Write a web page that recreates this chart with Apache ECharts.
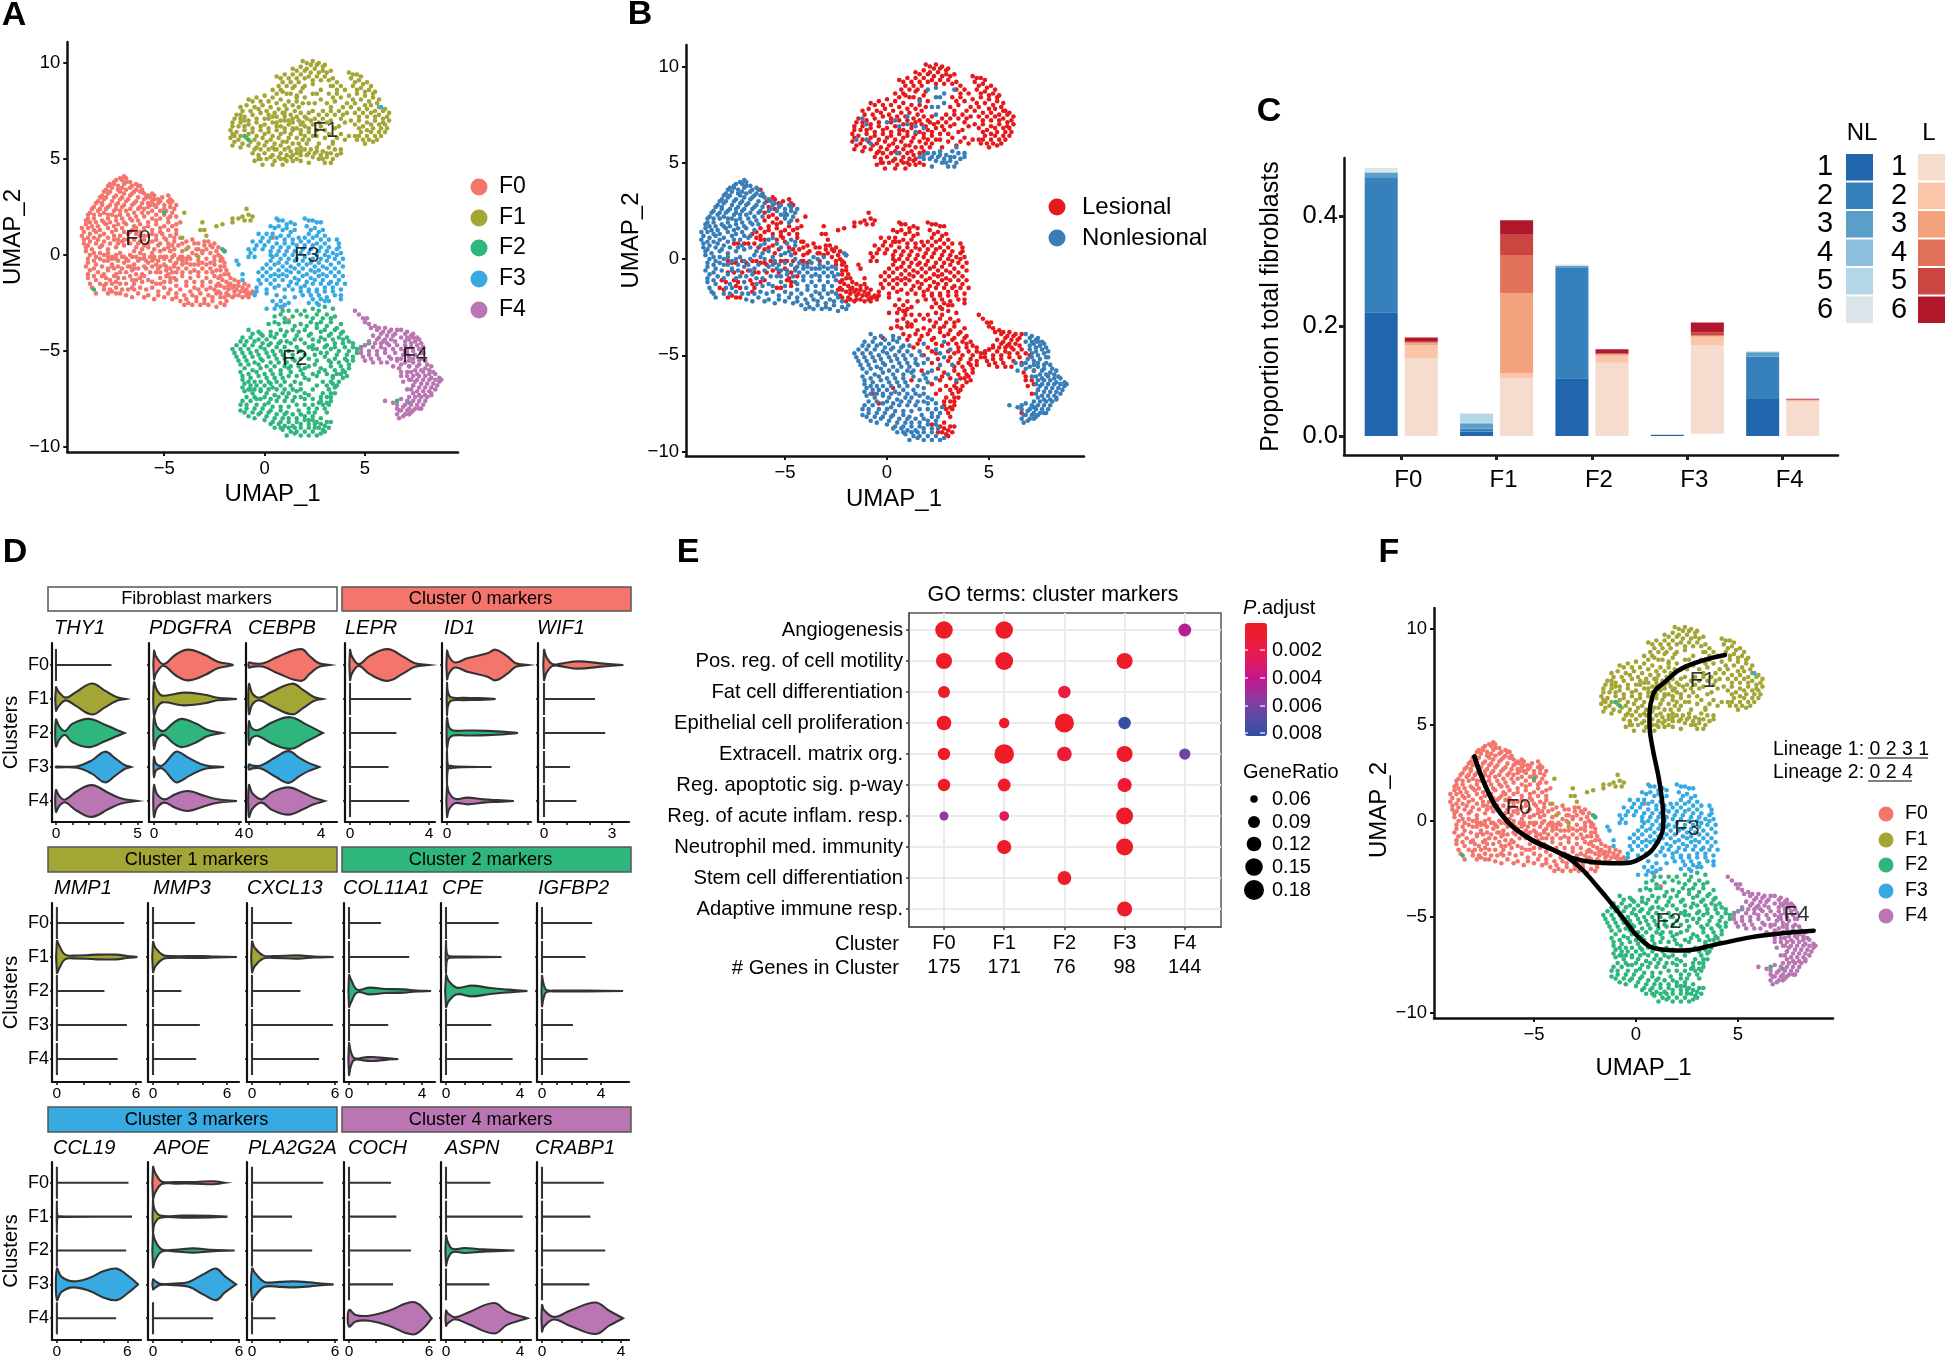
<!DOCTYPE html>
<html><head><meta charset="utf-8">
<script src="https://cdn.jsdelivr.net/npm/echarts@6/dist/echarts.min.js"></script>
<style>html,body{margin:0;background:#fff}#c{width:1945px;height:1360px}</style></head>
<body><div id="c"></div><script>
const CLUSTERS=['F0','F1','F2','F3','F4'];
const COLORS=['#f3756c','#a3a535','#2eb67d','#38aae2','#b976b2'];
// UMAP cell coordinates in tenths of a unit, x,y pairs, split by tissue condition
const f0N=[-70,41,-74,39,-71,39,-67,38,-77,37,-73,36,-70,37,-66,36,-63,36,-79,34,-76,35,-72,33,-69,34,-65,33,-62,33,-81,31,-78,32,-74,31,-71,30,-67,31,-63,30,-58,31,-55,29,-83,28,-80,29,-76,28,-73,27,-69,28,-65,27,-61,27,-57,26,-53,27,-50,26,-47,27,-45,24,-85,25,-81,26,-78,25,-74,24,-71,25,-67,24,-63,24,-52,23,-49,23,-46,22,-87,22,-83,23,-80,22,-76,21,-72,21,-68,21,-64,20,-48,19,-88,19,-85,19,-81,18,-78,19,-74,18,-70,17,-66,18,-89,16,-86,15,-83,15,-79,16,-75,15,-71,14,-90,12,-87,11,-84,12,-80,11,-76,12,-72,10,-68,11,-56,11,-47,10,-90,8,-87,7,-83,8,-80,7,-60,8,-52,6,-45,7,-89,4,-86,3,-82,4,-78,3,-74,4,-70,5,-64,4,-58,4,-50,3,-87,0,-84,-1,-80,0,-76,-1,-72,1,-67,0,-62,1,-55,-1,-45,0,-36,1,-88,-4,-84,-5,-80,-3,-76,-5,-70,-4,-65,-5,-58,-4,-52,-6,-47,-3,-41,-3,-37,-2,-33,-3,-29,-2,-87,-8,-83,-9,-78,-8,-72,-9,-66,-8,-61,-10,-54,-9,-49,-8,-43,-7,-39,-7,-35,-8,-31,-7,-27,-7,-24,-8,-88,-12,-84,-13,-77,-13,-70,-12,-64,-13,-58,-13,-52,-12,-45,-12,-41,-11,-37,-12,-33,-11,-29,-12,-25,-11,-86,-17,-80,-18,-74,-17,-68,-18,-62,-17,-56,-17,-50,-17,-44,-16,-39,-16,-35,-17,-31,-16,-27,-17,-69,-21,-63,-20,-58,-21,-53,-21,-48,-20,-44,-20,-40,-21,-36,-21,-32,-20,-28,-21,-24,-20,-46,-23,-42,-24,-38,-25,-34,-24,-30,-25,-26,-24,-22,-25,-19,-24,
-72,40,-69,40,-75,38,-69,38,-64,37,-78,36,-75,37,-71,35,-67,35,-64,34,-61,34,-80,33,-77,33,-73,34,-70,32,-66,32,-60,32,-57,30,-82,30,-79,30,-75,30,-72,29,-68,29,-64,28,-60,29,-56,28,-52,28,-48,28,-44,26,-84,27,-81,27,-77,26,-74,26,-70,26,-66,26,-62,25,-58,25,-54,25,-50,24,-47,25,-86,24,-82,24,-79,24,-75,23,-72,23,-69,23,-65,22,-61,22,-50,21,-47,20,-88,21,-85,21,-82,21,-78,21,-74,20,-71,19,-67,19,-63,18,-89,18,-87,17,-84,17,-80,17,-77,17,-73,16,-69,16,-65,15,-91,14,-88,14,-85,13,-82,13,-78,14,-74,13,-70,12,-67,12,-58,10,-49,8,-45,9,-91,10,-88,9,-85,9,-82,10,-78,9,-75,10,-71,7,-62,7,-54,8,-48,4,-90,6,-88,5,-84,6,-81,5,-77,6,-73,6,-67,6,-61,3,-56,1,-52,2,-47,2,-89,2,-85,1,-82,1,-78,1,-74,0,-70,-1,-65,2,-60,0,-53,-3,-43,-2,-38,-1,-34,0,-31,1,-88,-2,-85,-3,-82,-2,-78,-3,-73,-3,-68,-3,-63,-3,-56,-3,-50,-2,-44,-4,-39,-4,-35,-5,-31,-4,-27,-4,-89,-6,-85,-7,-81,-6,-76,-6,-73,-6,-67,-6,-60,-6,-54,-5,-49,-6,-45,-6,-41,-5,-37,-5,-33,-5,-29,-5,-25,-5,-88,-10,-85,-11,-80,-10,-74,-10,-69,-9,-64,-10,-57,-9,-52,-9,-46,-9,-41,-9,-37,-9,-33,-9,-29,-9,-26,-9,-87,-15,-79,-15,-76,-15,-69,-15,-61,-14,-56,-14,-50,-14,-44,-13,-39,-14,-35,-14,-31,-14,-27,-14,-84,-20,-77,-18,-71,-18,-65,-18,-59,-18,-53,-19,-47,-18,-42,-18,-37,-19,-33,-18,-29,-18,-25,-18,-66,-22,-60,-22,-55,-23,-50,-22,-44,-22,-39,-23,-34,-22,-30,-23,-26,-22,-22,-22,-40,-26,-36,-26,-32,-26,-28,-26,-24,-27,-20,-26];
const f0L=[-62,36,-59,30,-56,32,-53,29,-48,31,-46,28,-60,24,-56,23,-44,20,-42,17,-60,20,-56,19,-52,19,-62,16,-58,15,-54,16,-50,15,-46,15,-44,13,-66,13,-62,12,-52,12,-50,9,-65,8,-70,8,-75,8,-56,7,-48,6,-43,5,-60,5,-55,3,-45,3,-41,2,-38,4,-35,6,-33,3,-30,5,-28,7,-26,4,-27,1,-24,2,-22,-1,-20,2,-78,-1,-74,-2,-69,-2,-64,-1,-60,-2,-57,-1,-52,-1,-49,-1,-42,-1,-39,-2,-25,-1,-20,-4,-75,-7,-68,-6,-63,-7,-56,-6,-50,-5,-45,-5,-22,-6,-19,-8,-17,-12,-81,-11,-75,-11,-67,-11,-60,-11,-48,-10,-44,-9,-22,-11,-19,-14,-15,-13,-82,-15,-72,-15,-65,-15,-54,-15,-47,-14,-23,-15,-20,-17,-16,-17,-13,-16,-10,-15,-78,-20,-72,-20,-23,-19,-19,-20,-15,-19,-12,-19,-9,-18,-6,-19,-20,-22,-16,-22,-13,-21,-9,-21,-7,-20,4,9,12,-34,9,-27,
-61,33,-55,31,-51,30,-47,29,-58,27,-55,26,-58,22,-54,21,-58,17,-54,18,-48,17,-44,16,-64,14,-60,14,-56,13,-52,14,-48,13,-62,10,-64,11,-60,10,-54,10,-51,11,-44,11,-42,9,-73,8,-68,8,-63,6,-58,6,-53,5,-46,5,-41,6,-39,7,-36,8,-33,6,-30,7,-27,5,-25,6,-23,4,-34,3,-31,2,-29,3,-23,0,-21,-2,-76,-2,-71,-1,-66,-1,-62,-2,-59,-3,-55,-2,-50,-1,-46,-1,-41,-1,-25,-3,-22,-3,-20,-6,-78,-7,-71,-7,-65,-7,-59,-7,-53,-7,-47,-7,-22,-8,-20,-10,-18,-10,-79,-12,-73,-12,-66,-13,-62,-12,-49,-11,-47,-12,-23,-12,-21,-13,-17,-15,-80,-16,-74,-14,-66,-17,-52,-15,-24,-16,-22,-16,-18,-16,-15,-16,-13,-14,-11,-17,-8,-16,-76,-19,-74,-20,-22,-20,-18,-18,-14,-18,-10,-19,-8,-20,-5,-20,-18,-21,-15,-21,-11,-22,-8,-22];
const f1L=[21,100,24,101,27,100,30,99,14,97,18,98,21,97,25,97,29,96,33,96,42,95,46,94,6,93,10,94,14,94,18,94,22,93,26,93,30,93,34,92,43,92,47,91,51,90,9,90,13,90,17,90,34,88,38,88,44,88,48,87,52,86,55,85,4,86,8,86,11,84,14,87,18,85,20,82,32,84,36,84,42,83,46,84,50,83,54,82,57,81,-8,81,-4,82,0,83,4,82,8,81,12,80,16,80,19,79,31,79,35,80,41,79,45,79,50,78,53,78,57,77,60,76,-12,77,-9,78,-5,77,-1,78,3,77,7,76,11,76,15,75,18,74,22,74,29,75,33,75,37,75,41,74,45,74,49,74,53,74,57,73,61,72,-14,73,-10,72,-6,73,-2,74,2,73,6,72,10,72,14,71,17,70,21,71,25,71,29,71,33,70,38,71,43,70,47,70,51,69,55,70,59,69,62,70,-16,69,-12,69,-8,68,-4,69,0,68,4,69,8,67,12,68,16,66,20,67,24,68,28,67,37,67,47,66,51,65,54,66,58,66,61,66,-17,65,-14,64,-10,65,-6,64,-2,65,2,64,6,65,10,64,13,63,18,63,22,64,26,62,32,63,38,63,47,62,51,62,55,62,58,62,-17,61,-13,60,-9,61,-5,60,-1,61,3,60,7,61,11,59,19,60,22,60,27,58,34,59,40,60,46,60,50,58,54,59,-16,57,-12,56,-8,57,-4,56,0,57,4,56,8,57,12,56,18,56,-6,53,-3,52,0,53,4,52,8,53,11,52,14,52,-5,49,-2,50,1,50,5,49,8,50,11,49,14,49,18,49,-9,24,-8,21,-11,20,-6,20,-13,19,-10,18,-7,18,-16,19,-16,17,-32,13,-30,13,-24,15,-21,16,-40,22,-31,17,-41,9,-29,10,-39,3,-33,-1,
19,101,23,99,26,99,29,98,16,96,20,96,23,95,27,95,31,95,44,94,48,93,8,92,12,92,16,92,20,92,24,91,28,91,32,91,36,90,45,90,49,89,53,88,7,88,11,88,15,88,19,87,36,86,40,86,46,86,50,85,54,84,6,84,9,85,13,84,16,83,34,82,38,82,44,81,48,81,52,80,56,79,-6,80,-2,80,2,80,6,79,10,78,14,78,17,77,33,77,39,77,43,77,47,76,51,76,55,75,59,75,62,74,-11,75,-7,75,-3,76,1,75,5,74,9,74,13,73,16,72,20,72,27,73,31,73,35,73,39,73,47,72,51,72,55,72,59,71,-15,71,-12,71,-8,70,-4,71,2,71,8,70,12,70,19,69,23,70,27,69,31,69,40,69,45,68,49,67,53,68,57,68,60,68,-16,67,-13,67,-10,67,-6,66,-2,67,2,66,6,67,10,66,14,65,18,65,22,66,26,65,30,65,35,66,48,64,53,64,57,64,60,64,-16,63,-12,62,-8,63,-4,62,0,63,4,62,8,63,12,61,16,61,20,62,24,62,30,61,36,61,42,62,45,62,49,60,52,60,56,60,-15,59,-11,58,-7,59,-3,58,1,59,5,58,9,59,14,58,17,58,21,58,-5,55,-2,55,2,55,6,55,10,55,13,54,16,55,-3,50,3,51,7,51,10,50,13,51,16,50,-1,47,4,47,9,47];
const f1N=[20,55,23,55,26,54,29,54,32,56,35,55,38,55,36,52,34,50,31,51,29,50,24,51,21,52,18,52,16,53,22,48,24,89,20,88,28,86,33,88,6,69,10,70,14,66,18,68,0,71,-12,73,-15,62,5,55,24,75,25,79,16,82,26,84,22,53,25,53,28,52,31,53,33,53,27,50,33,48,30,48,38,53,34,58,26,56,18,54,22,79,28,81,24,84,10,74,4,72,-10,70,14,69];
const f2L=[9,-29,16,-29,24,-28,30,-27,34,-28,5,-32,10,-33,14,-32,21,-32,26,-31,31,-31,35,-32,2,-36,7,-36,12,-35,18,-36,23,-35,28,-35,33,-35,38,-36,8,-39,14,-39,20,-39,26,-38,30,-39,35,-39,39,-40,-2,-41,10,-42,16,-42,22,-42,32,-42,37,-43,41,-43,13,-46,20,-46,27,-45,35,-46,39,-46,44,-46,18,-50,24,-49,33,-49,37,-50,42,-50,46,-49,50,-47,22,-54,30,-53,35,-54,40,-54,44,-53,17,-58,25,-57,33,-58,38,-58,42,-57,27,-61,31,-62,36,-62,40,-61,12,-63,22,-65,29,-66,33,-66,37,-66,39,-64,-7,-70,3,-67,24,-70,32,-70,35,-69,-4,-75,28,-74,31,-74,33,-74,29,-78,30,-80,32,-78,22,-86,26,-87,28,-85,27,-90,30,-89,32,-90,33,-87,30,-92,
12,-29,20,-29,27,-29,8,-31,18,-31,24,-33,29,-33,33,-33,5,-35,10,-35,15,-37,21,-37,26,-36,31,-37,36,-38,11,-40,17,-40,23,-41,28,-40,33,-41,38,-41,15,-44,24,-44,30,-44,34,-44,39,-44,42,-45,22,-48,30,-48,35,-48,40,-48,44,-48,48,-48,52,-46,25,-52,31,-51,36,-52,41,-52,46,-51,33,-56,37,-56,41,-55,44,-55,28,-59,35,-60,39,-60,42,-59,26,-63,34,-64,38,-62,41,-63,26,-68,31,-68,34,-67,36,-68,29,-72,33,-72,35,-72,28,-76,31,-77,33,-76,31,-82,28,-88,31,-87,25,-90,29,-91];
const f2N=[-8,-39,-3,-40,3,-40,-11,-43,-7,-43,-3,-44,1,-44,5,-43,8,-45,18,-44,28,-43,-14,-47,-10,-47,-6,-47,-2,-48,2,-47,6,-48,10,-48,16,-48,24,-47,31,-47,-15,-51,-11,-51,-7,-51,-3,-52,1,-51,5,-52,9,-52,14,-52,20,-52,28,-51,-13,-55,-9,-55,-5,-56,-1,-55,3,-56,7,-56,11,-56,15,-55,26,-55,32,-55,-10,-59,-6,-60,-2,-59,3,-60,8,-60,12,-59,20,-59,30,-60,-11,-63,-7,-64,-3,-63,1,-64,5,-64,9,-64,16,-63,19,-62,24,-62,34,-63,-10,-67,-7,-68,-4,-68,0,-68,4,-69,8,-68,13,-68,18,-67,-10,-71,-6,-72,-2,-71,1,-72,5,-73,9,-72,12,-72,16,-71,20,-72,-11,-76,-7,-76,-2,-75,2,-77,6,-76,10,-76,14,-76,20,-75,24,-75,-12,-81,-9,-80,-5,-80,-1,-80,3,-81,8,-81,11,-82,17,-81,22,-80,26,-80,-8,-84,-3,-83,1,-84,5,-85,9,-85,12,-85,16,-85,20,-84,24,-84,3,-88,7,-88,10,-89,14,-89,18,-88,22,-88,25,-88,9,-91,13,-92,16,-92,20,-92,24,-92,28,-93,-50,22,-85,-18,-20,2,-21,3,-10,62,-8,60,66,-76,72,-77,
-6,-41,-1,-42,3,-42,6,-41,-12,-45,-9,-45,-5,-45,-1,-46,3,-46,7,-46,11,-45,-16,-49,-12,-49,-8,-49,-4,-50,0,-49,4,-50,8,-50,12,-50,17,-50,26,-49,-14,-53,-10,-53,-6,-53,-2,-54,2,-53,6,-54,10,-54,14,-54,18,-54,-12,-57,-8,-57,-3,-57,1,-58,5,-58,10,-58,13,-58,22,-58,-12,-61,-8,-62,-4,-61,0,-62,4,-62,8,-62,13,-61,18,-60,-11,-65,-8,-66,-5,-66,-2,-66,2,-66,6,-66,10,-66,15,-66,20,-64,-11,-69,-8,-70,-5,-70,-2,-70,2,-70,6,-70,10,-70,14,-70,18,-70,-9,-74,-5,-74,0,-74,3,-75,7,-74,11,-74,15,-74,18,-74,22,-73,-12,-78,-9,-78,-4,-78,0,-78,4,-79,8,-79,12,-79,16,-78,20,-78,24,-78,27,-77,-10,-82,-6,-82,-2,-82,2,-82,6,-83,10,-83,14,-83,18,-83,22,-82,25,-82,-5,-85,0,-86,4,-87,8,-87,12,-87,16,-87,20,-86,24,-86,5,-90,8,-90,12,-90,15,-90,18,-90,22,-90,11,-94,15,-93,18,-94,22,-94,26,-94];
const f3L=[6,19,9,18,13,17,20,19,24,18,28,17,3,15,7,15,11,14,15,13,21,15,25,14,29,13,-3,11,1,11,4,11,8,10,12,10,17,9,22,11,26,10,30,10,-6,7,-2,7,2,7,6,6,10,6,14,6,18,7,22,7,26,6,30,6,36,8,-8,3,-5,3,-1,3,3,2,7,2,11,2,15,2,19,3,23,3,27,2,31,2,37,4,-8,-1,4,-1,8,-2,12,-2,16,-2,20,-1,24,-2,28,-2,32,-1,36,0,38,1,1,-5,5,-5,9,-6,13,-6,17,-5,21,-5,25,-6,29,-6,33,-5,37,-4,-3,-9,1,-9,5,-10,9,-10,13,-9,17,-9,21,-10,25,-9,29,-10,33,-9,37,-9,-3,-13,1,-13,5,-13,9,-13,13,-14,17,-13,21,-14,25,-13,29,-13,33,-14,37,-13,-4,-17,1,-18,5,-17,10,-18,14,-18,18,-17,22,-18,26,-18,30,-17,34,-17,38,-18,-5,-21,15,-22,19,-21,23,-21,27,-21,31,-22,35,-21,38,-21,4,-24,8,-24,12,-25,22,-25,26,-25,30,-24,1,-28,5,-28,8,-27,58,77,-14,-3,-13,-5,-11,-13,-11,-10,
7,18,11,16,15,16,22,18,26,17,5,14,9,13,13,12,23,13,27,12,-1,9,3,9,6,9,10,8,14,8,20,9,24,9,28,8,32,8,37,6,-4,5,0,5,4,4,8,4,12,4,16,5,20,5,24,5,28,4,32,4,36,3,-7,1,-5,-1,3,0,6,0,10,0,14,0,18,1,22,1,26,0,30,0,34,1,3,-3,7,-4,11,-4,15,-3,19,-3,23,-4,27,-4,31,-3,35,-2,39,-2,-1,-7,3,-7,7,-8,11,-8,15,-7,19,-7,23,-8,27,-8,31,-7,35,-7,39,-6,-1,-11,3,-11,7,-11,11,-11,15,-12,19,-11,23,-12,27,-11,31,-11,35,-11,39,-11,-2,-15,3,-15,7,-16,12,-16,16,-15,20,-16,24,-15,28,-15,32,-15,36,-15,40,-15,18,-19,22,-19,26,-19,30,-19,34,-19,38,-23,-4,-19,1,-20,6,-21,10,-22,24,-23,28,-23,32,-24,6,-26,10,-26,27,-26];
const f4L=[45,-29,47,-31,49,-33,51,-33,52,-36,55,-37,57,-38,60,-38,63,-39,66,-39,58,-41,61,-42,64,-42,56,-44,59,-45,50,-47,54,-48,58,-48,62,-47,66,-47,70,-50,48,-51,52,-52,56,-52,60,-51,65,-51,50,-55,54,-56,58,-56,61,-56,67,-59,72,-58,68,-63,69,-66,72,-65,74,-68,71,-70,66,-80,
50,-35,53,-38,56,-39,59,-40,62,-40,65,-41,54,-42,57,-43,60,-44,63,-44,52,-45,55,-46,58,-46,61,-46,65,-45,48,-49,52,-50,56,-50,60,-49,64,-49,68,-49,49,-53,53,-54,57,-54,62,-53,66,-54,68,-61,71,-63];
const f4N=[68,-39,71,-40,74,-41,76,-43,68,-43,72,-44,75,-45,78,-46,70,-47,73,-48,77,-49,79,-51,69,-52,72,-53,75,-52,78,-54,80,-55,63,-54,66,-55,70,-56,74,-56,77,-57,81,-57,64,-58,75,-60,78,-60,82,-60,84,-61,71,-61,74,-63,77,-63,80,-63,83,-64,87,-64,75,-66,78,-67,81,-67,84,-67,87,-66,73,-70,76,-71,79,-71,82,-71,85,-70,72,-74,75,-74,78,-74,81,-74,83,-73,68,-75,70,-78,73,-78,76,-78,79,-78,66,-78,68,-81,71,-81,74,-81,77,-80,66,-83,69,-84,72,-83,60,-76,64,-77,
70,-41,73,-42,71,-43,74,-43,77,-44,70,-45,73,-46,76,-47,79,-48,71,-49,74,-50,78,-51,71,-51,74,-54,77,-55,68,-54,72,-55,68,-57,72,-58,76,-58,80,-59,83,-58,73,-61,76,-62,79,-61,82,-62,85,-62,73,-65,76,-65,79,-65,82,-65,85,-65,88,-65,74,-68,77,-69,80,-69,83,-69,86,-68,74,-72,77,-73,80,-73,83,-72,71,-76,74,-76,77,-76,80,-76,69,-79,72,-80,75,-80,78,-80,67,-81,70,-83,73,-82,67,-85];
const clusterL=[f0L,f1L,f2L,f3L,f4L], clusterN=[f0N,f1N,f2N,[],f4N];
const labelPosA=[[-6.3,.83],[3.03,6.45],[1.5,-5.4],[2.1,-.05],[7.5,-5.26]];
const labelPosF=[[-5.76,.67],[3.26,7.29],[1.6,-5.24],[2.5,-.42],[7.87,-4.9]];
const lineage1=[[-7.92,3.35],[-7.29,1.61],[-6.57,.31],[-5.49,-.73],[-4.05,-1.51],[-2.25,-2.12],[-.81,-2.2],[.25,-1.94],[1.07,-1.08],[1.34,.05],[1.16,1.96],[.8,3.87],[.66,5.09],[.8,6.47],[1.52,7.34],[2.42,8.04],[4.36,8.65]];
const lineage2=[[-7.92,3.35],[-7.29,1.61],[-6.57,.31],[-5.49,-.73],[-4.05,-1.51],[-2.97,-2.2],[-1.89,-3.42],[-.81,-4.81],[.26,-6.2],[1.16,-6.68],[2.24,-6.75],[4.04,-6.4],[6.01,-5.99],[8.71,-5.71]];
// Panel C: proportions by sample (1-6) for each cluster
const NL=[[.225,.008,.105,.0025,.0673],[.2435,.0055,.2017,0,.077],[.0095,.0085,.002,0,.008],[.001,.002,.0005,0,.0005],[.001,.0165,.0005,0,.0005],[.007,.001,.002,.0008,.0005]];
const LS=[[.141,.105,.133,.1615,.0624],[.0245,.009,.013,.015,.002],[.003,.1455,.0025,.001,.0005],[.002,.0695,.0005,.0015,.001],[.002,.0365,.001,.0055,.0005],[.0065,.0265,.0075,.0175,.0015]];
const L_BASE=[0,0,0,.004,0];
const NL_COL=['#2166ac','#3680bb','#5b9fc9','#8bbfdb','#b6d7e8','#dbe4ea'];
const L_COL=['#f5dccf','#fac5a9','#f3a27e','#e1715a','#ca4741','#b2182b'];
// Panel D: each gene has five violins; a number is a flat spike up to that value, an array is x,halfHeight knots
const THY1=[3.4,[0,.7,.15,.45,.6,.08,1.2,.4,2.2,.93,3,.5,3.7,.12,4.3,0],[0,.8,.2,.4,.55,.12,1,.55,2,.85,3,.5,3.7,.2,4.2,0],[0,.02,1.3,.05,2.2,.4,3,.92,3.6,.55,4.2,.12,4.6,0],[0,.65,.2,.3,.55,.08,1.3,.6,2.2,.95,3.2,.5,4,.15,5,0]];
const PDGFRA=[[0,.85,.1,.5,.45,.05,1,.6,1.6,.92,2.4,.6,3,.2,3.7,.02],[0,1,.15,.5,.4,.2,1.4,.38,2.4,.25,3,.08,3.9,0],[0,.95,.15,.35,.45,.12,.9,.6,1.3,.85,2,.55,2.5,.2,3.2,0],[0,.6,.1,.2,.4,.1,.9,.8,1.1,.93,1.7,.5,2.4,.1,3.3,0],[0,.95,.15,.4,.5,.1,1,.4,1.6,.6,2.4,.3,3,.1,3.9,0]];
const CEBPB=[[0,.15,.2,.1,.8,.1,1.6,.5,2.9,.95,3.4,.5,3.9,.1,4.5,0],[0,.9,.2,.3,.6,.08,1.2,.4,2.4,.92,3,.55,3.6,.12,4.1,0],[0,.7,.15,.3,.5,.18,1.3,.65,2.3,.95,3.2,.5,4.1,0],[0,.15,.2,.08,.7,.1,1.5,.6,2.2,.95,2.8,.55,3.3,.25,3.9,0],[0,.95,.2,.45,.7,.1,1.3,.55,2.2,.82,3,.5,3.6,.2,4.2,0]];
const LEPR=[[0,.9,.1,.5,.45,.05,1,.55,1.9,.95,2.7,.5,3.3,.1,4,0],3.1,2.35,1.95,3];
const ID1=[[0,.85,.1,.5,.4,.15,1,.4,2,.7,2.4,.92,3,.5,3.4,.1,4,0],[0,.95,.05,.4,.2,.1,.8,.07,1.6,.05,2.4,0],[0,.9,.1,.35,.3,.15,1,.15,2,.13,3,.06,3.5,0],[0,1,.05,.1,.2,.07,.5,.02,2.2,0],[0,.95,.1,.5,.4,.13,1,.2,1.8,.1,2.5,.05,3.3,0]];
const WIF1=[[0,.9,.1,.5,.35,.07,.7,.07,1.5,.22,2.5,.1,3.5,0],2.25,2.7,1.15,1.43];
const MMP1=[5.1,[0,.95,.2,.65,.6,.15,1.2,.08,3,.14,4.5,.14,5.3,.06,6.1,0],3.6,5.3,4.6];
const MMP3=[3.4,[0,.9,.2,.55,.8,.12,1.5,.05,4,.06,5,.03,6.8,0],2.3,3.8,3.5];
const CXCL13=[2.9,[0,.92,.2,.55,.8,.1,1.5,.05,3.3,.1,4.5,.03,5.9,0],3.5,5.85,4.85];
const COL11A1=[1.75,3.3,[0,.95,.1,.7,.45,.08,1.1,.2,2,.12,3,.1,3.7,.03,4.5,0],2.15,[0,.95,.1,.45,.3,.05,.9,.1,1.3,.12,2,.05,2.7,0]];
const CPE=[2.85,[0,.95,.05,.2,.2,.05,1,.03,3,0],[0,.95,.15,.6,.6,.2,1.4,.32,2.4,.18,3.4,.08,4.4,0],2.45,3.6];
const IGFBP2=[3.4,2.95,[0,.9,.1,.45,.3,.07,1,.03,3,.02,5.5,0],2.1,3.1];
const CCL19=[6.1,[0,.9,.03,.1,.15,.02,6.4,0],5.9,[0,.95,.4,.45,1.4,.18,2.8,.4,4,.8,5.1,.95,6,.55,6.9,.02],5.05];
const APOE=[[0,.95,.15,.6,.6,.08,1.5,.05,3,.05,4.2,.09,5,0],[0,1,.1,.45,.5,.07,2,.06,4,.05,5.2,0],[0,1,.15,.6,.6,.07,1.5,.05,2.8,.13,4,.05,5.7,0],[0,.3,.15,.2,.5,.03,1.5,.05,2.5,.15,3.6,.65,4.4,.95,5,.5,5.8,0],4.2];
const PLA2G2A=[5.15,2.9,4.35,[0,.95,.25,.65,.9,.15,2,.15,3,.18,4.2,.12,5,.05,5.9,0],1.7];
const COCH=[3.15,3.55,4.65,3.3,[0,.5,.5,.2,1.5,.15,3,.45,4.3,.9,5,.95,5.7,.5,6.2,0]];
const ASPN=[2.4,4.15,[0,.9,.1,.5,.35,.1,1,.15,2,.07,3,.03,3.7,0],2.35,[0,.45,.1,.3,.5,.06,1.2,.35,2.6,.92,3.3,.4,4.4,0]];
const CRABP1=[3.13,2.45,3.2,2.4,[0,.8,.1,.5,.6,.08,1.4,.45,2.7,.95,3.4,.45,4.1,0]];
// Panel E
const GO_TERMS=['Angiogenesis','Pos. reg. of cell motility','Fat cell differentiation','Epithelial cell proliferation','Extracell. matrix org.','Reg. apoptotic sig. p-way','Reg. of acute inflam. resp.','Neutrophil med. immunity','Stem cell differentiation','Adaptive immune resp.'];
const GENE_COUNTS=[175,171,76,98,144];
const GO_DOTS=[[0,0,.15,.0003],[1,0,.15,.0003],[4,0,.10,.0045],[0,1,.135,.0003],[1,1,.155,.0003],[3,1,.135,.0004],[0,2,.09,.0004],[2,2,.095,.0015],[0,3,.12,.0003],[1,3,.08,.0006],[2,3,.17,.0003],[3,3,.095,.0082],[0,4,.095,.0004],[1,4,.175,.0003],[2,4,.12,.0012],[3,4,.135,.0005],[4,4,.085,.0065],[0,5,.095,.0005],[1,5,.10,.0005],[3,5,.115,.001],[0,6,.07,.0055],[1,6,.075,.0025],[3,6,.145,.0003],[1,7,.115,.0004],[3,7,.145,.0003],[2,8,.11,.0004],[3,9,.125,.0004]];
const RATIO_LEGEND=[.06,.09,.12,.15,.18];
const PADJ_LEGEND=[.002,.004,.006,.008];

const FONT='"Liberation Sans",Arial,sans-serif';
const pairs=a=>{const o=[];for(let i=0;i<a.length;i+=2)o.push([a[i]/10,a[i+1]/10]);return o;};
const minusFmt=v=>String(v).replace('-','\u2212');
const BLK='#111';
const grids=[],xAxes=[],yAxes=[],series=[],graphic=[];
const txt=(text,x,y,size,o={})=>graphic.push({type:'text',z:50,style:Object.assign({text,x,y,fill:'#000',fontFamily:FONT,fontSize:size,align:'left',verticalAlign:'middle',textAlign:'left',textVerticalAlign:'middle'},o)});
const dot=(x,y,r,fill)=>graphic.push({type:'circle',z:50,shape:{cx:x,cy:y,r},style:{fill}});
const rect=(x,y,w,h,fill,stroke)=>graphic.push({type:'rect',z:50,shape:{x,y,width:w,height:h},style:{fill,stroke:stroke||null,lineWidth:stroke?1.5:0}});
const seg=(x1,y1,x2,y2,stroke,w)=>graphic.push({type:'line',z:60,shape:{x1,y1,x2,y2},style:{stroke,lineWidth:w}});
function addGrid(l,t,r,b){grids.push({left:l,top:t,width:r-l,height:b-t,containLabel:false});return grids.length-1;}
const axLine=w=>({show:true,onZero:false,lineStyle:{color:BLK,width:w}});
const DOT=4.6;
function umap(box,xz,yz,ppx,ppy,gapX,gapY,shiftX,shiftY){
  const g=addGrid(box[0],box[1],box[2],box[3]);
  xAxes.push({gridIndex:g,type:'value',min:(box[0]-xz)/ppx,max:(box[2]-xz)/ppx,name:'UMAP_1',nameLocation:'middle',nameGap:gapX,
    nameTextStyle:{fontFamily:FONT,fontSize:24,color:'#000',padding:[0,0,0,shiftX]},axisLine:axLine(2.5),splitLine:{show:false},
    axisTick:{show:true,length:4,lineStyle:{width:2,color:BLK},customValues:[-5,0,5]},
    axisLabel:{customValues:[-5,0,5],formatter:minusFmt,fontFamily:FONT,fontSize:18.5,color:'#000',margin:7}});
  yAxes.push({gridIndex:g,type:'value',min:(yz-box[3])/ppy,max:(yz-box[1])/ppy,name:'UMAP_2',nameLocation:'middle',nameGap:gapY,
    nameTextStyle:{fontFamily:FONT,fontSize:24,color:'#000',padding:[0,0,0,shiftY]},axisLine:axLine(2.5),splitLine:{show:false},
    axisTick:{show:true,length:4,lineStyle:{width:2,color:BLK},customValues:[-10,-5,0,5,10]},
    axisLabel:{customValues:[-10,-5,0,5,10],formatter:minusFmt,fontFamily:FONT,fontSize:18.5,color:'#000',margin:7}});
  return g;
}
const scatter=(g,name,pts,color)=>series.push({type:'scatter',name,xAxisIndex:g,yAxisIndex:g,data:pts,symbolSize:DOT,itemStyle:{color,opacity:1},silent:true,large:false});
const clusterSeries=g=>CLUSTERS.forEach((c,i)=>scatter(g,c,pairs(clusterL[i].concat(clusterN[i])),COLORS[i]));
const labelSeries=(g,pos,size)=>series.push({type:'scatter',xAxisIndex:g,yAxisIndex:g,z:20,silent:true,symbolSize:0,
  data:pos.map((p,i)=>({value:p,name:CLUSTERS[i]})),label:{show:true,position:'inside',formatter:'{b}',fontFamily:FONT,fontSize:size,color:'#000'}});

// A
const gA=umap([60,42,458,452],261,255,20.45,19.2,30,38,20,20);
clusterSeries(gA);labelSeries(gA,labelPosA,22);
// B
const gB=umap([686,45,1084,456],887,259,20.4,19.25,31,41,18,20);
scatter(gB,'Lesional',clusterL.flatMap(pairs),'#e41a1c');
scatter(gB,'Nonlesional',clusterN.flatMap(pairs),'#377eb8');
// F
const gF=umap([1434,608,1833,1018],1636,821,20.4,19.2,38,38,20,6);
clusterSeries(gF);
[lineage1,lineage2].forEach(d=>series.push({type:'line',xAxisIndex:gF,yAxisIndex:gF,data:d,smooth:.45,showSymbol:false,symbol:'none',silent:true,z:10,lineStyle:{color:'#000',width:4.5,cap:'round'}}));
labelSeries(gF,labelPosF,22);

// legends of A, B, F
CLUSTERS.forEach((c,i)=>{const y=[187,218,248,279,310][i];dot(479,y,8.5,COLORS[i]);txt(c,499,y,23);});
[['Lesional','#e41a1c',207],['Nonlesional','#377eb8',238]].forEach(a=>{dot(1057,a[2],8.5,a[1]);txt(a[0],1082,a[2],24);});
CLUSTERS.forEach((c,i)=>{const y=[814,840,865,891,916][i];dot(1886,y,7.5,COLORS[i]);txt(c,1905,y,19.5);});
txt('Lineage 1: 0 2 3 1',1773,750,19.5);txt('Lineage 2: 0 2 4',1773,773,19.5);
seg(1868,758,1928,758,'#000',1.2);seg(1868,781,1912,781,'#000',1.2);

// C
const gC=addGrid(1344,158,1838,455);
xAxes.push({gridIndex:gC,type:'value',min:-.6,max:4.58,axisLine:axLine(2.5),splitLine:{show:false},
  axisTick:{show:true,length:5,lineStyle:{width:3,color:'#222'},customValues:[0,1,2,3,4]},
  axisLabel:{customValues:[0,1,2,3,4],formatter:v=>CLUSTERS[v],fontFamily:FONT,fontSize:24,color:'#000',margin:13,padding:[0,0,0,14]}});
yAxes.push({gridIndex:gC,type:'value',min:-.0345,max:.505,name:'Proportion total fibroblasts',nameLocation:'middle',nameGap:60,
  nameTextStyle:{fontFamily:FONT,fontSize:25,color:'#000'},axisLine:axLine(2.5),splitLine:{show:false},
  axisTick:{show:true,length:5,lineStyle:{width:3,color:'#222'},customValues:[0,.2,.4]},
  axisLabel:{customValues:[0,.2,.4],formatter:v=>v.toFixed(1),fontFamily:FONT,fontSize:25.5,color:'#000',margin:6}});
const BAR_W=33;
function stackSeries(levels,colors,off,base){
  const cum=[0,1,2,3,4].map(i=>base?base[i]:0);
  levels.forEach((vals,li)=>{
    const data=vals.map((v,i)=>{const d=[i+off,cum[i],cum[i]+v];cum[i]+=v;return d;});
    series.push({type:'custom',name:'Sample '+(li+1),xAxisIndex:gC,yAxisIndex:gC,silent:true,data,encode:{x:0,y:[1,2]},
      renderItem:(p,api)=>{const a=api.coord([api.value(0),api.value(2)]),b=api.coord([api.value(0),api.value(1)]);
        return {type:'rect',shape:{x:a[0]-BAR_W/2,y:a[1],width:BAR_W,height:b[1]-a[1]},style:{fill:colors[li]}};}});
  });
}
stackSeries(NL,NL_COL,-.21);
stackSeries(LS,L_COL,.21,L_BASE);
txt('NL',1862,133,24,{align:'center',textAlign:'center'});txt('L',1929,133,24,{align:'center',textAlign:'center'});
for(let i=0;i<6;i++){const t=154+28.5*i;
  rect(1846,t,27,26.5,NL_COL[i]);rect(1918,t,27,26.5,L_COL[i]);
  txt(String(i+1),1825,t+13,29,{align:'center',textAlign:'center'});txt(String(i+1),1899,t+13,29,{align:'center',textAlign:'center'});}

// D
const ROWS=[
 {top:643,bot:822,y0:665,dy:34,hT:587,hB:611,gY:628,headers:[['Fibroblast markers','#ffffff'],['Cluster 0 markers',COLORS[0]]],panels:[
  ['THY1',THY1,51,142,55,137.5,5,54],['PDGFRA',PDGFRA,149,241,154,239,4,149],['CEBPB',CEBPB,246,337,249,321,4,248],['LEPR',LEPR,345,435,350,429,4,345],['ID1',ID1,442,531,447,528,4,444,true],['WIF1',WIF1,538,629,544,612,3,537]]},
 {top:903,bot:1082,y0:923,dy:34,hT:847,hB:872,gY:888,headers:[['Cluster 1 markers',COLORS[1]],['Cluster 2 markers',COLORS[2]]],panels:[
  ['MMP1',MMP1,50,141,55,136,6,54],['MMP3',MMP3,148,239,153,227,6,153],['CXCL13',CXCL13,247,337,252,335,6,247],['COL11A1',COL11A1,344,435,349,422,4,343],['CPE',CPE,441,531,446,520,4,442],['IGFBP2',IGFBP2,537,629,542,601,4,538]]},
 {top:1162,bot:1342,y0:1183,dy:34.25,hT:1107,hB:1132,gY:1148,headers:[['Cluster 3 markers',COLORS[3]],['Cluster 4 markers',COLORS[4]]],panels:[
  ['CCL19',CCL19,50,141,55,127,6,53],['APOE',APOE,148,239,153,239,6,154],['PLA2G2A',PLA2G2A,247,337,252,335,6,248],['COCH',COCH,344,435,349,429,6,348],['ASPN',ASPN,441,531,446,520,4,445],['CRABP1',CRABP1,537,629,542,621,4,535]]}];
ROWS.forEach(R=>{
  R.headers.forEach((h,i)=>{const l=i?342:48,w=289;rect(l,R.hT,w,R.hB-R.hT,h[1],'#555');
    txt(h[0],l+w/2+(i?-6:4),(R.hT+R.hB)/2,18.2,{align:'center',textAlign:'center'});});
  R.panels.forEach((P,pi)=>{
    const [gene,vals,L,Rt,zero,tickPx,tickVal,nameX,noLast]=P;
    const ppu=(tickPx-zero)/tickVal;
    const g=addGrid(L,R.top,Rt,R.bot);
    const step=tickVal===6?2:1,ticks=[];for(let t=0;t<=tickVal;t+=step)ticks.push(t);
    xAxes.push({gridIndex:g,type:'value',min:(L-zero)/ppu,max:(Rt-zero)/ppu,axisLine:axLine(2.2),splitLine:{show:false},
      axisTick:{show:true,length:3,lineStyle:{width:1.5,color:BLK},customValues:ticks},
      axisLabel:{customValues:noLast?[0]:[0,tickVal],fontFamily:FONT,fontSize:15.5,color:'#000',margin:4,hideOverlap:false}});
    yAxes.push({gridIndex:g,type:'value',inverse:true,min:(R.top-R.y0)/R.dy,max:(R.bot-R.y0)/R.dy,axisLine:axLine(2.2),splitLine:{show:false},
      name:pi===0?'Clusters':'',nameLocation:'middle',nameGap:31,nameTextStyle:{fontFamily:FONT,fontSize:20,color:'#000'},
      axisTick:{show:true,length:2,lineStyle:{width:1.5,color:BLK},customValues:[0,1,2,3,4]},
      axisLabel:{show:pi===0,customValues:[0,1,2,3,4],formatter:v=>CLUSTERS[v],fontFamily:FONT,fontSize:18,color:'#000',margin:3}});
    txt(gene,nameX,R.gY,20,{fontStyle:'italic'});
    series.push({type:'custom',name:gene,xAxisIndex:g,yAxisIndex:g,silent:true,clip:false,data:[0,1,2,3,4].map(r=>[0,r]),
      renderItem:(p,api)=>{const r=api.value(1),v=vals[r],flat=typeof v==='number';
        const k=flat?[0,.96,0,0,v,0]:v,top=[],bot=[];
        for(let i=0;i<k.length;i+=2){top.push(api.coord([k[i],r-k[i+1]*.49]));bot.unshift(api.coord([k[i],r+k[i+1]*.49]));}
        return {type:'polygon',shape:{points:top.concat(bot),smooth:flat?0:.4},style:{fill:flat?'rgba(0,0,0,0)':COLORS[r],stroke:'#333',lineWidth:2.1}};}});
  });
});
txt('Cluster',899,944,20.2,{align:'right',textAlign:'right'});
txt('# Genes in Cluster',899,968,20.2,{align:'right',textAlign:'right'});

// E
const gE=addGrid(909,613,1221,927);
grids[gE].show=true;grids[gE].borderColor='#555';grids[gE].borderWidth=1.5;
xAxes.push({gridIndex:gE,type:'value',min:(909-944)/60.2,max:(1221-944)/60.2,axisLine:{show:true,onZero:false,lineStyle:{color:'#555',width:1.5}},
  splitLine:{show:true,lineStyle:{color:'#ebebeb',width:2}},axisTick:{show:true,length:3,lineStyle:{color:'#333',width:1.5},customValues:[0,1,2,3,4]},
  axisLabel:{customValues:[0,1,2,3,4],formatter:v=>CLUSTERS[v]+'\n'+GENE_COUNTS[v],fontFamily:FONT,fontSize:20,lineHeight:24,color:'#000',margin:4}});
yAxes.push({gridIndex:gE,type:'value',inverse:true,min:(613-630)/31,max:(927-630)/31,axisLine:{show:true,onZero:false,lineStyle:{color:'#555',width:1.5}},
  splitLine:{show:true,lineStyle:{color:'#ebebeb',width:2}},axisTick:{show:true,length:3,lineStyle:{color:'#333',width:1.5},customValues:[0,1,2,3,4,5,6,7,8,9]},
  axisLabel:{customValues:[0,1,2,3,4,5,6,7,8,9],formatter:v=>GO_TERMS[v],fontFamily:FONT,fontSize:20.2,color:'#000',margin:6}});
const SIZES=[7.5,12,14.7,17.5,20];
const sizeOf=r=>{for(let i=0;i<4;i++)if(r<=RATIO_LEGEND[i+1])return SIZES[i]+(SIZES[i+1]-SIZES[i])*(r-RATIO_LEGEND[i])/(RATIO_LEGEND[i+1]-RATIO_LEGEND[i]);return SIZES[4];};
series.push({type:'scatter',name:'GO terms',xAxisIndex:gE,yAxisIndex:gE,silent:true,data:GO_DOTS,symbolSize:d=>sizeOf(d[2]),itemStyle:{opacity:1}});
const eIdx=series.length-1;
txt('GO terms: cluster markers',1053,595,21.4,{align:'center',textAlign:'center'});
graphic.push({type:'text',z:50,style:{text:'{i|P}{n|.adjust}',x:1243,y:608,verticalAlign:'middle',textVerticalAlign:'middle',rich:{i:{fontFamily:FONT,fontSize:20,fontStyle:'italic',fill:'#000'},n:{fontFamily:FONT,fontSize:20,fill:'#000'}}}});
txt('GeneRatio',1243,772,20);
PADJ_LEGEND.forEach((v,i)=>{const y=[650,678,706,733][i];txt(v.toFixed(3),1272,y,20);seg(1243,y,1248,y,'#fff',1.2);seg(1260,y,1265,y,'#fff',1.2);});
RATIO_LEGEND.forEach((v,i)=>{const y=[799,822,844,867,890][i];dot(1254,y,SIZES[i]/2,'#000');txt(v.toFixed(2),1272,y,20);});

// panel letters
[['A',14,16],['B',640,15],['C',1269,112],['D',15,553],['E',688,553],['F',1389,553]].forEach(a=>txt(a[0],a[1],a[2],34,{fontWeight:'bold',align:'center',textAlign:'center'}));

const chart=echarts.init(document.getElementById('c'),null,{renderer:'canvas'});
chart.setOption({animation:false,backgroundColor:'#fff',tooltip:{show:false},grid:grids,xAxis:xAxes,yAxis:yAxes,series,graphic,
  visualMap:[{type:'continuous',seriesIndex:eIdx,dimension:3,min:.0001,max:.0083,inverse:true,orient:'vertical',left:1230,top:608,itemWidth:22,itemHeight:113,
    calculable:false,realtime:false,text:null,showLabel:false,inRange:{color:['#ee1c25','#ec1c3a','#e01a62','#c0188c','#8e3a9e','#5c4aa4','#2f4fa2']}}]});
</script></body></html>
